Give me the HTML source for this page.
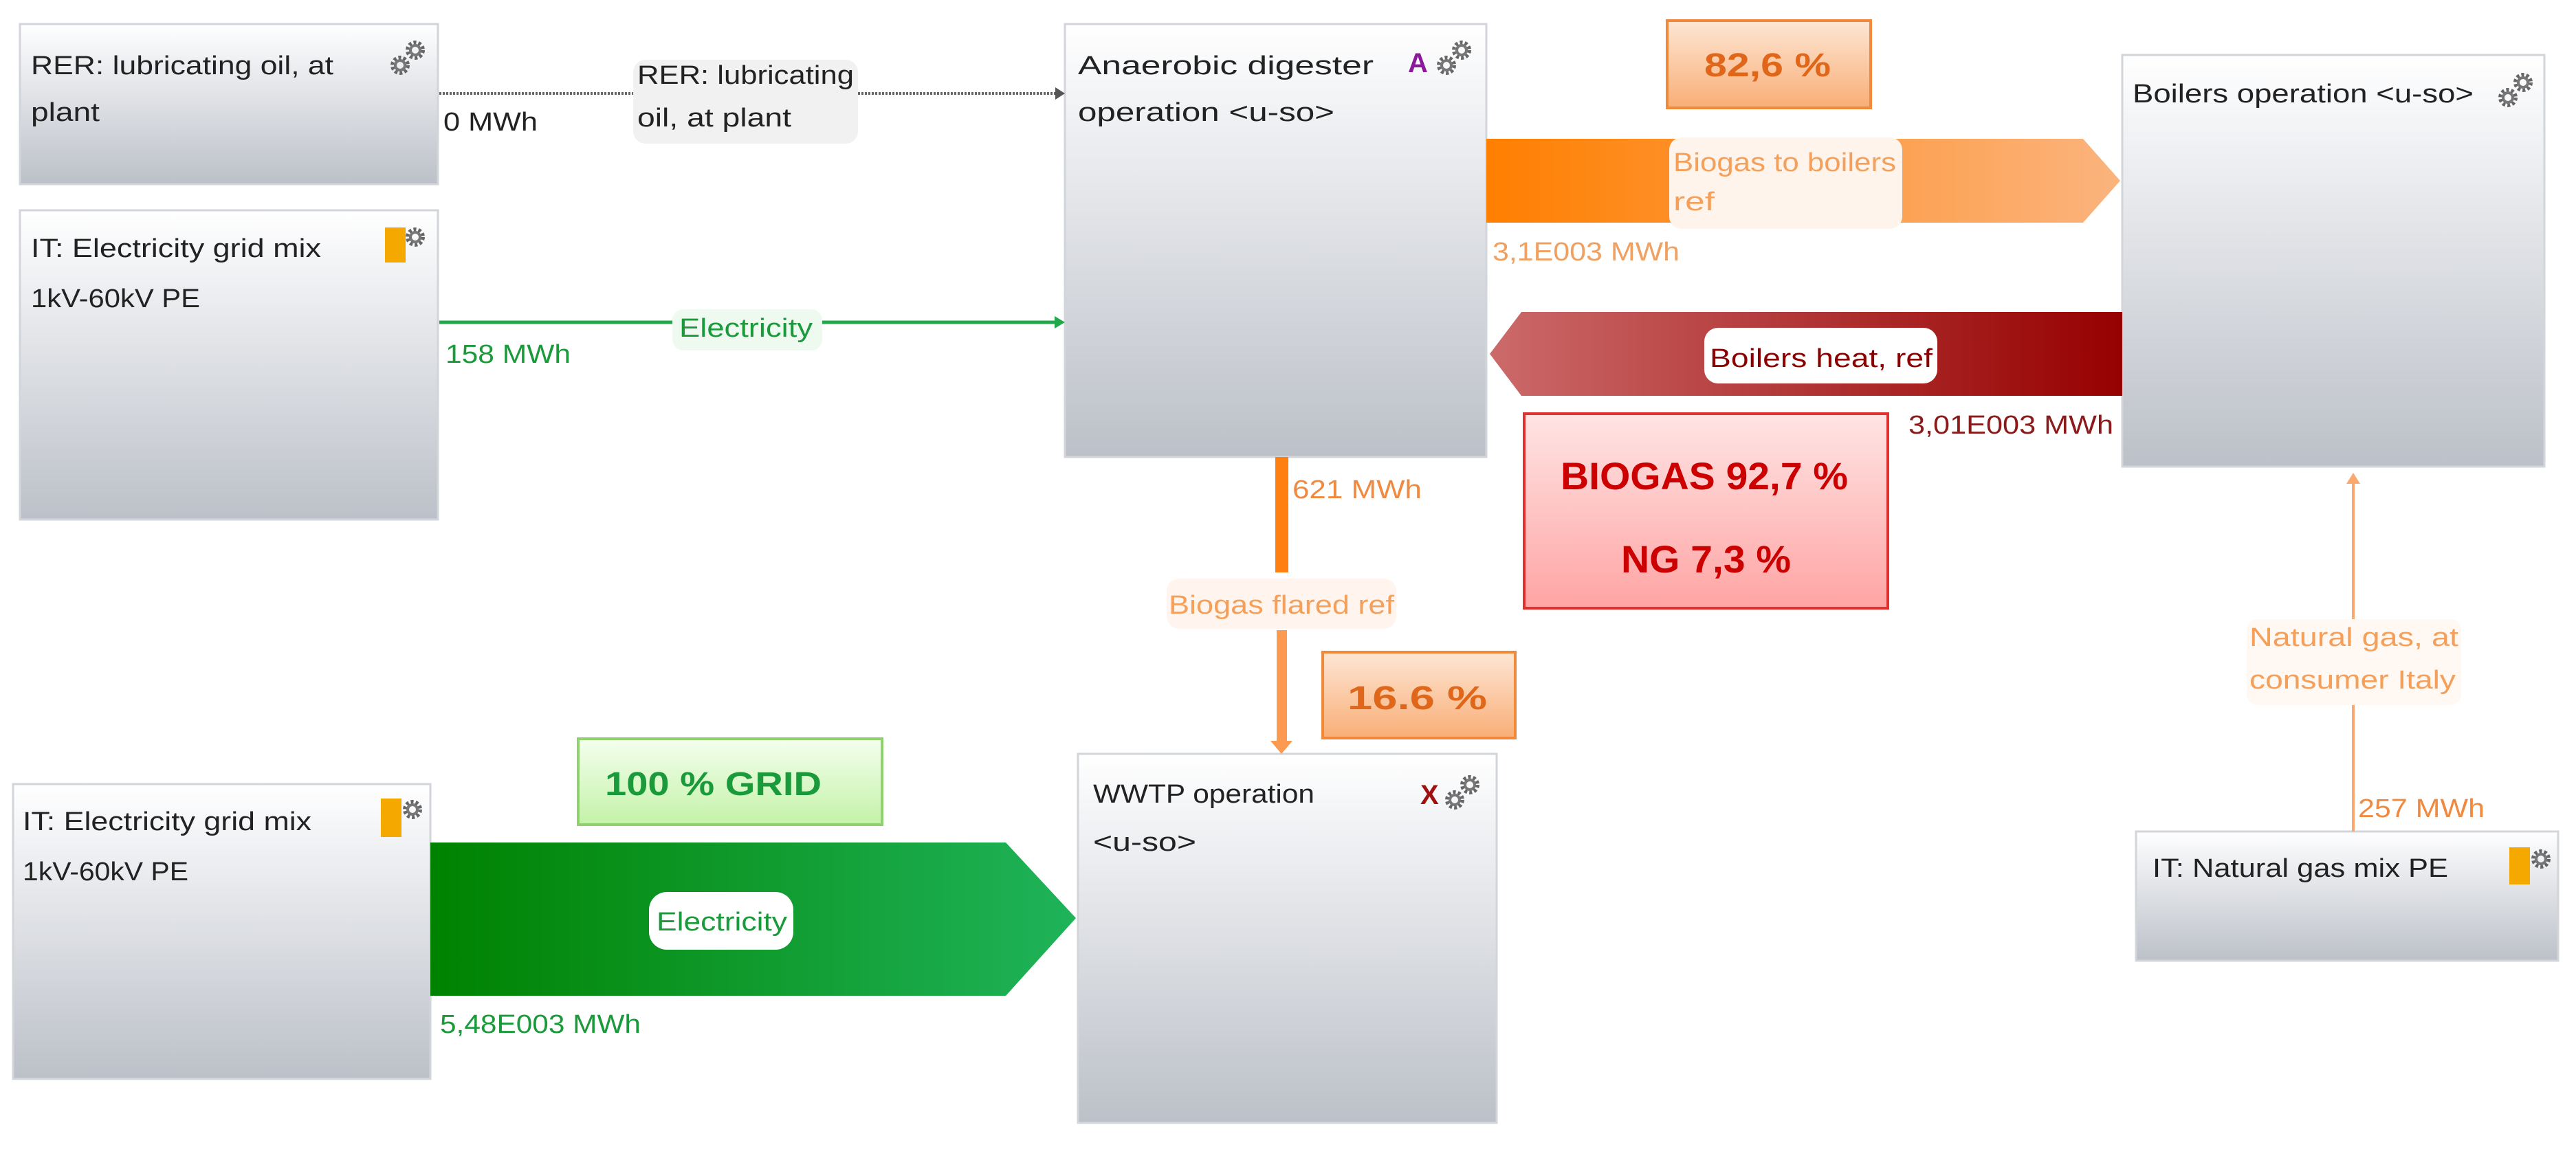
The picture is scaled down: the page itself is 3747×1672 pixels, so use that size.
<!DOCTYPE html>
<html><head><meta charset="utf-8"><style>
html,body{margin:0;padding:0;background:#fff;}
svg{display:block;}
text{font-family:"Liberation Sans",sans-serif;}
</style></head><body>
<svg width="3747" height="1672" viewBox="0 0 3747 1672" xmlns="http://www.w3.org/2000/svg">
<defs>
<linearGradient id="box" x1="0" y1="0" x2="0" y2="1"><stop offset="0" stop-color="#ffffff"/><stop offset="0.15" stop-color="#f4f5f7"/><stop offset="1" stop-color="#bcc0c8"/></linearGradient>
<linearGradient id="orA" x1="0" y1="0" x2="1" y2="0"><stop offset="0" stop-color="#ff7f00"/><stop offset="1" stop-color="#fbb47e"/></linearGradient>
<linearGradient id="redA" x1="0" y1="0" x2="1" y2="0"><stop offset="0" stop-color="#cc6a6a"/><stop offset="1" stop-color="#960000"/></linearGradient>
<linearGradient id="grA" x1="0" y1="0" x2="1" y2="0"><stop offset="0" stop-color="#008200"/><stop offset="1" stop-color="#1fb35a"/></linearGradient>
<linearGradient id="orB" x1="0" y1="0" x2="0" y2="1"><stop offset="0" stop-color="#fde6d4"/><stop offset="1" stop-color="#f9ae76"/></linearGradient>
<linearGradient id="rdB" x1="0" y1="0" x2="0" y2="1"><stop offset="0" stop-color="#ffe4e4"/><stop offset="1" stop-color="#ffa4a4"/></linearGradient>
<linearGradient id="gnB" x1="0" y1="0" x2="0" y2="1"><stop offset="0" stop-color="#f4ffee"/><stop offset="1" stop-color="#c4f2a8"/></linearGradient>
<g id="gear"><circle cx="0" cy="0" r="11" fill="none" stroke="#666" stroke-width="6" stroke-dasharray="4 3"/><circle cx="0" cy="0" r="7" fill="none" stroke="#777" stroke-width="4"/></g>
<g id="gears"><use href="#gear" x="-12" y="12"/><use href="#gear" x="10" y="-10"/></g>
</defs>

<!-- boxes -->
<g stroke="#d2d5da" stroke-width="3" fill="url(#box)">
<rect x="29" y="35" width="608" height="233"/>
<rect x="29" y="306" width="608" height="450"/>
<rect x="1549" y="35" width="613" height="630"/>
<rect x="3087" y="80" width="614" height="599"/>
<rect x="1568" y="1097" width="609" height="537"/>
<rect x="19" y="1141" width="607" height="429"/>
<rect x="3107" y="1210" width="614" height="188"/>
</g>

<!-- box texts -->
<g font-size="38" fill="#222">
<text x="45" y="108" textLength="440" lengthAdjust="spacingAndGlyphs">RER: lubricating oil, at</text>
<text x="45" y="176" textLength="100" lengthAdjust="spacingAndGlyphs">plant</text>
<text x="45" y="374" textLength="422" lengthAdjust="spacingAndGlyphs">IT: Electricity grid mix</text>
<text x="45" y="447" textLength="246" lengthAdjust="spacingAndGlyphs">1kV-60kV PE</text>
<text x="1568" y="108" textLength="430" lengthAdjust="spacingAndGlyphs">Anaerobic digester</text>
<text x="1568" y="176" textLength="373" lengthAdjust="spacingAndGlyphs">operation &lt;u-so&gt;</text>
<text x="3102" y="149" textLength="496" lengthAdjust="spacingAndGlyphs">Boilers operation &lt;u-so&gt;</text>
<text x="1590" y="1168" textLength="322" lengthAdjust="spacingAndGlyphs">WWTP operation</text>
<text x="1590" y="1238" textLength="150" lengthAdjust="spacingAndGlyphs">&lt;u-so&gt;</text>
<text x="33" y="1208" textLength="420" lengthAdjust="spacingAndGlyphs">IT: Electricity grid mix</text>
<text x="33" y="1281" textLength="241" lengthAdjust="spacingAndGlyphs">1kV-60kV PE</text>
<text x="3131" y="1276" textLength="430" lengthAdjust="spacingAndGlyphs">IT: Natural gas mix PE</text>
</g>
<text x="2048" y="105" font-size="40" font-weight="bold" fill="#8a1a9a">A</text>
<text x="2066" y="1170" font-size="40" font-weight="bold" fill="#a01010">X</text>

<!-- icons -->
<use href="#gears" x="594" y="83"/>
<use href="#gears" x="2116" y="83"/>
<use href="#gears" x="3660" y="130"/>
<use href="#gears" x="2128" y="1152"/>
<rect x="560" y="331" width="30" height="51" fill="#f5a800"/><use href="#gear" x="604" y="345"/>
<rect x="554" y="1162" width="30" height="56" fill="#f5a800"/><use href="#gear" x="600" y="1178"/>
<rect x="3650" y="1233" width="30" height="54" fill="#f5a800"/><use href="#gear" x="3696" y="1250"/>

<!-- dashed connector -->
<line x1="639" y1="136" x2="921" y2="136" stroke="#666" stroke-width="4" stroke-dasharray="3 2"/>
<line x1="1248" y1="136" x2="1540" y2="136" stroke="#666" stroke-width="4" stroke-dasharray="3 2"/>
<polygon points="1549,136 1535,127 1535,145" fill="#555"/>
<rect x="921" y="87" width="327" height="122" rx="18" fill="#f1f1f1"/>
<text x="927" y="122" font-size="38" fill="#222" textLength="315" lengthAdjust="spacingAndGlyphs">RER: lubricating</text>
<text x="927" y="184" font-size="38" fill="#222" textLength="224" lengthAdjust="spacingAndGlyphs">oil, at plant</text>
<text x="645" y="190" font-size="38" fill="#222" textLength="137" lengthAdjust="spacingAndGlyphs">0 MWh</text>

<!-- electricity thin -->
<line x1="639" y1="469" x2="1540" y2="469" stroke="#22a84a" stroke-width="5"/>
<polygon points="1549,469 1534,460 1534,478" fill="#22a84a"/>
<rect x="978" y="450" width="218" height="60" rx="16" fill="#eefaf0"/>
<text x="988" y="490" font-size="38" fill="#1a9a3a" textLength="194" lengthAdjust="spacingAndGlyphs">Electricity</text>
<text x="648" y="528" font-size="38" fill="#1a9a3a" textLength="182" lengthAdjust="spacingAndGlyphs">158 MWh</text>

<!-- 82,6 box -->
<rect x="2425" y="30" width="296" height="127" fill="url(#orB)" stroke="#f08a3a" stroke-width="4"/>
<text x="2479" y="111" font-size="48" font-weight="bold" fill="#e0661a" textLength="184" lengthAdjust="spacingAndGlyphs">82,6 %</text>

<!-- orange arrow -->
<polygon points="2162,202 3030,202 3084,263 3030,324 2162,324" fill="url(#orA)"/>
<rect x="2428" y="200" width="339" height="133" rx="18" fill="#fff4ec"/>
<text x="2434" y="249" font-size="38" fill="#f5a05a" textLength="324" lengthAdjust="spacingAndGlyphs">Biogas to boilers</text>
<text x="2434" y="306" font-size="38" fill="#f5a05a" textLength="60" lengthAdjust="spacingAndGlyphs">ref</text>
<text x="2171" y="379" font-size="38" fill="#f0a060" textLength="272" lengthAdjust="spacingAndGlyphs">3,1E003 MWh</text>

<!-- red arrow -->
<polygon points="3087,454 2213,454 2167,515 2213,576 3087,576" fill="url(#redA)"/>
<rect x="2479" y="477" width="339" height="81" rx="20" fill="#fff"/>
<text x="2487" y="534" font-size="38" fill="#8b0000" textLength="324" lengthAdjust="spacingAndGlyphs">Boilers heat, ref</text>
<text x="2776" y="631" font-size="38" fill="#8b1a1a" textLength="298" lengthAdjust="spacingAndGlyphs">3,01E003 MWh</text>

<!-- biogas box -->
<rect x="2217" y="602" width="529" height="283" fill="url(#rdB)" stroke="#e03030" stroke-width="4"/>
<text x="2270" y="712" font-size="56" font-weight="bold" fill="#cc0000" textLength="418" lengthAdjust="spacingAndGlyphs">BIOGAS 92,7  %</text>
<text x="2358" y="833" font-size="56" font-weight="bold" fill="#cc0000" textLength="247" lengthAdjust="spacingAndGlyphs">NG 7,3 %</text>

<!-- biogas flared -->
<rect x="1855" y="665" width="19" height="168" fill="#ff7f10"/>
<rect x="1857" y="917" width="15" height="168" fill="#fb9a50"/>
<polygon points="1864,1097 1848,1078 1880,1078" fill="#fb9a50"/>
<rect x="1697" y="842" width="334" height="73" rx="18" fill="#fff5ee"/>
<text x="1700" y="893" font-size="38" fill="#f5a05a" textLength="328" lengthAdjust="spacingAndGlyphs">Biogas flared ref</text>
<text x="1880" y="725" font-size="38" fill="#f08a40" textLength="188" lengthAdjust="spacingAndGlyphs">621 MWh</text>

<!-- 16.6 box -->
<rect x="1924" y="949" width="280" height="125" fill="url(#orB)" stroke="#f08a3a" stroke-width="4"/>
<text x="1960" y="1032" font-size="48" font-weight="bold" fill="#e0661a" textLength="203" lengthAdjust="spacingAndGlyphs">16.6  %</text>

<!-- 100% grid -->
<rect x="841" y="1075" width="442" height="125" fill="url(#gnB)" stroke="#8fd06f" stroke-width="4"/>
<text x="880" y="1157" font-size="48" font-weight="bold" fill="#1a9a3a" textLength="315" lengthAdjust="spacingAndGlyphs">100 % GRID</text>

<!-- green arrow -->
<polygon points="626,1226 1463,1226 1565,1336 1463,1449 626,1449" fill="url(#grA)"/>
<rect x="944" y="1298" width="210" height="84" rx="26" fill="#fff"/>
<text x="955" y="1354" font-size="38" fill="#1a9a3a" textLength="190" lengthAdjust="spacingAndGlyphs">Electricity</text>
<text x="640" y="1503" font-size="38" fill="#1a9a3a" textLength="292" lengthAdjust="spacingAndGlyphs">5,48E003 MWh</text>

<!-- natural gas -->
<line x1="3423" y1="1210" x2="3423" y2="700" stroke="#f9a870" stroke-width="4"/>
<polygon points="3423,688 3413,704 3433,704" fill="#f9a870"/>
<rect x="3268" y="901" width="312" height="125" rx="16" fill="#fff8f3"/>
<text x="3272" y="940" font-size="38" fill="#f5a05a" textLength="304" lengthAdjust="spacingAndGlyphs">Natural gas, at</text>
<text x="3272" y="1002" font-size="38" fill="#f5a05a" textLength="300" lengthAdjust="spacingAndGlyphs">consumer Italy</text>
<text x="3430" y="1189" font-size="38" fill="#f08a40" textLength="184" lengthAdjust="spacingAndGlyphs">257 MWh</text>
</svg>
</body></html>
